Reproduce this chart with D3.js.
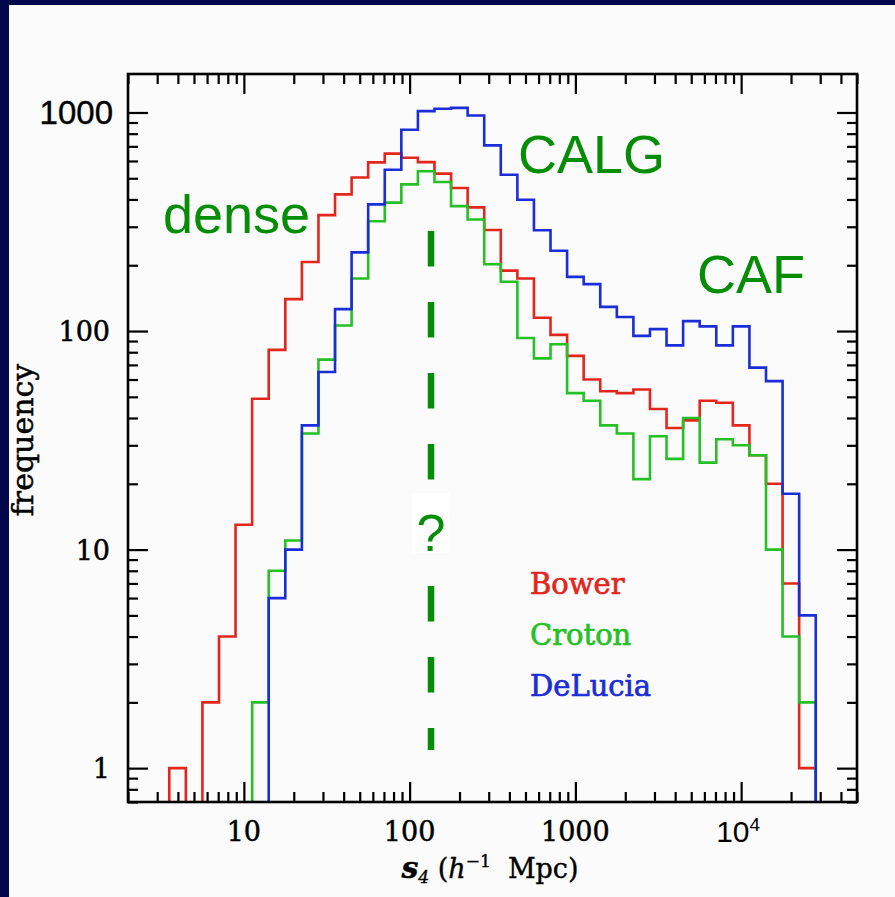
<!DOCTYPE html>
<html><head><meta charset="utf-8">
<script src="https://cdn.jsdelivr.net/npm/d3@7"></script>
<style>html,body{margin:0;padding:0;background:#02064a;} svg{display:block}</style>
</head><body>
<svg id="c" width="895" height="897"></svg>
<script>
// log10 of histogram bin edges (s4 in h^-1 Mpc)
const binEdgeExponents = [0.55,0.65,0.75,0.85,0.95,1.05,1.15,1.25,1.35,1.45,1.55,1.65,1.75,1.85,1.95,2.05,2.15,2.25,2.35,2.45,2.55,2.65,2.75,2.85,2.95,3.05,3.15,3.25,3.35,3.45,3.55,3.65,3.75,3.85,3.95,4.05,4.15,4.25,4.35,4.45];
const bower   = [1,0,2,4,13,49,82,140,207,339,422,504,591,648,621,593,525,451,368,290,189,174,115,96,77,60,53,52,54,44,36,39,48,47,37,27,20,7,1];
const croton  = [0,0,0,0,0,2,8,11,34,74,106,174,318,387,469,538,481,373,324,202,168,93,75,87,52,48,37,34,21,33,26,40,25,32,30,27,10,4,2];
const delucia = [0,0,0,0,0,0,6,10,37,65,126,229,380,547,834,1014,1040,1050,969,707,519,399,289,233,177,164,129,116,95,102,86,111,105,86,105,68,59,18,5];
const seriesNames = ["Bower","Croton","DeLucia"];
const seriesValues = [bower, croton, delucia];
const xTickValues = [10,100,1000];
const xTickLabels = ["10","100","1000"];
const xPowerTickValue = 10000;
const yTickValues = [1,10,100];
const yTickLabels = ["1","10","100"];
const yTopTickValue = 1000;
const yTopTickLabel = "1000";
const annotationTexts = ["dense","CALG","CAF","?"];

const seriesColors = ["#e2261c","#25c025","#1a2dd6"];
const annotColor = "#068d06";

const svg = d3.select("#c");
const L=128, R=857, T=74, B=802;
svg.append("rect").attr("x",9).attr("y",5).attr("width",886).attr("height",892).attr("fill","#fbfbfb");

const x = d3.scaleLog().domain([2,5e4]).range([L,R]);
const y = d3.scaleLog().domain([0.7,1500]).range([B,T]);
const edges = binEdgeExponents.map(e=>Math.pow(10,e));

svg.append("clipPath").attr("id","clip").append("rect")
  .attr("x",L).attr("y",T).attr("width",R-L).attr("height",B-T);

const LOW = 0.3;
const line = d3.line().x(d=>x(d[0])).y(d=>y(d[1] > 0 ? d[1] : LOW)).curve(d3.curveStepAfter);
const plot = svg.append("g").attr("clip-path","url(#clip)");
seriesValues.forEach((vals,si)=>{
  const pts = [[edges[0], LOW]];
  vals.forEach((v,i)=>pts.push([edges[i], v]));
  pts.push([edges[vals.length], vals[vals.length-1]]);
  pts.push([edges[vals.length], LOW]);
  plot.append("path").attr("d", line(pts)).attr("fill","none")
    .attr("stroke", seriesColors[si]).attr("stroke-width",2.6)
    .attr("stroke-linejoin","miter");
});

// axes: ticks inward on all four sides
const allX = x.ticks().filter(t=>t>=2 && t<=5e4);
const majorX = allX.filter(t=>Math.abs(Math.log10(t)-Math.round(Math.log10(t)))<1e-9);
const minorX = allX.filter(t=>!majorX.includes(t));
const allY = y.ticks().filter(t=>t>=0.7 && t<=1500);
const majorY = allY.filter(t=>Math.abs(Math.log10(t)-Math.round(Math.log10(t)))<1e-9);
const minorY = allY.filter(t=>!majorY.includes(t));

function addAxis(gen, tx, ty, vals, size){
  const g = svg.append("g").attr("transform",`translate(${tx},${ty})`)
    .call(gen.tickValues(vals).tickSize(size).tickFormat(""));
  g.select(".domain").remove();
  g.selectAll(".tick line").attr("stroke","#000").attr("stroke-width",2.2);
}
addAxis(d3.axisBottom(x), 0, B, majorX, -20);
addAxis(d3.axisBottom(x), 0, B, minorX, -10);
addAxis(d3.axisTop(x), 0, T, majorX, -20);
addAxis(d3.axisTop(x), 0, T, minorX, -10);
addAxis(d3.axisLeft(y), L, 0, majorY, -20);
addAxis(d3.axisLeft(y), L, 0, minorY, -10);
addAxis(d3.axisRight(y), R, 0, majorY, -20);
addAxis(d3.axisRight(y), R, 0, minorY, -10);

svg.append("rect").attr("x",L).attr("y",T).attr("width",R-L).attr("height",B-T)
  .attr("fill","none").attr("stroke","#000").attr("stroke-width",2.6);

// tick labels
const serif = "'DejaVu Serif', serif";
const sans = "'Liberation Sans', Arial, sans-serif";
xTickValues.forEach((v,i)=>{
  svg.append("text").attr("x",x(v)).attr("y",841).attr("text-anchor","middle")
    .attr("font-family",serif).attr("font-size",27).attr("fill","#000")
    .attr("stroke","#000").attr("stroke-width",0.5).text(xTickLabels[i]);
});
const xp = svg.append("text").attr("x",x(xPowerTickValue)-3).attr("y",842).attr("text-anchor","middle")
  .attr("font-family",sans).attr("font-size",30).attr("fill","#000");
xp.append("tspan").text("10");
xp.append("tspan").attr("font-size",19).attr("dy",-11).text("4");

yTickValues.forEach((v,i)=>{
  svg.append("text").attr("x",110).attr("y",y(v)+10).attr("text-anchor","end")
    .attr("font-family",serif).attr("font-size",27).attr("fill","#000")
    .attr("stroke","#000").attr("stroke-width",0.5).text(yTickLabels[i]);
});
svg.append("text").attr("x",113).attr("y",y(yTopTickValue)+12).attr("text-anchor","end")
  .attr("font-family",sans).attr("font-size",33).attr("fill","#000")
  .attr("stroke","#000").attr("stroke-width",0.4).text(yTopTickLabel);

// axis titles
svg.append("text").attr("transform","translate(33,440) rotate(-90)").attr("text-anchor","middle")
  .attr("font-family",serif).attr("font-size",30).attr("fill","#000")
  .attr("stroke","#000").attr("stroke-width",0.5).text("frequency");
const xt = svg.append("text").attr("x",490).attr("y",878).attr("text-anchor","middle")
  .attr("font-family",serif).attr("font-size",27).attr("fill","#000")
  .attr("stroke","#000").attr("stroke-width",0.4);
xt.append("tspan").attr("font-style","italic").attr("font-weight","bold").attr("font-size",30).text("s");
xt.append("tspan").attr("font-style","italic").attr("font-size",17).attr("dy",5).text("4");
xt.append("tspan").attr("dy",-5).text(" (");
xt.append("tspan").attr("font-style","italic").text("h");
xt.append("tspan").attr("font-size",17).attr("dy",-11).text("\u22121");
xt.append("tspan").attr("dy",11).text("\u00a0 Mpc)");

// legend
const legendY = [594,645,696];
seriesNames.forEach((n,i)=>{
  svg.append("text").attr("x",530).attr("y",legendY[i]).attr("font-family",serif)
    .attr("font-size",29).attr("fill",seriesColors[i])
    .attr("stroke",seriesColors[i]).attr("stroke-width",0.7).text(n);
});

// annotations
svg.append("line").attr("x1",431).attr("x2",431).attr("y1",231).attr("y2",750)
  .attr("stroke",annotColor).attr("stroke-width",6.5).attr("stroke-dasharray","35.5,35.5");
svg.append("rect").attr("x",412).attr("y",493).attr("width",38).attr("height",60).attr("fill","#ffffff");
const annotPos = [[163,233,54],[518,173,54],[697,293,54],[431,551,52]];
annotationTexts.forEach((t,i)=>{
  svg.append("text").attr("x",annotPos[i][0]).attr("y",annotPos[i][1])
    .attr("text-anchor", i===3 ? "middle" : "start")
    .attr("font-family",sans).attr("font-size",annotPos[i][2]).attr("fill",annotColor).text(t);
});
</script>
</body></html>
